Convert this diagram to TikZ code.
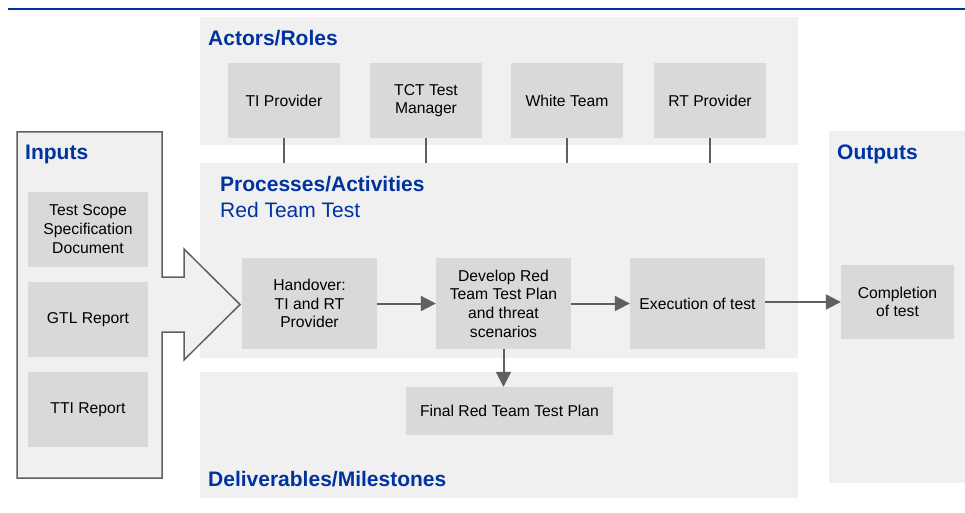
\documentclass[tikz,border=0pt]{standalone}
\usepackage{fontspec}
\setmainfont{Liberation Sans}
\usepackage{tikz}
\usetikzlibrary{positioning, arrows.meta}

\definecolor{titleblue}{RGB}{0,51,160}
\definecolor{panelgray}{RGB}{240,240,240}
\definecolor{boxgray}{RGB}{217,217,217}
\definecolor{linegray}{RGB}{96,96,96}

\tikzset{
	panel/.style={fill=panelgray, inner sep=0pt},
	box/.style={fill=boxgray, inner sep=0pt, align=center, font=\fontsize{15.7}{18.7}\selectfont},
	title/.style={anchor=base west, inner sep=0pt, text=titleblue, font=\fontsize{21}{24}\selectfont\bfseries},
	subtitle/.style={anchor=base west, inner sep=0pt, text=titleblue, font=\fontsize{21}{24}\selectfont},
	link/.style={draw=linegray, line width=2pt},
	flow/.style={link, -{Triangle[length=15pt, width=15pt]}}
}

\begin{document}
\begin{tikzpicture}[x=1pt, y=-1pt]
			\useasboundingbox	(0, 0) rectangle (965, 513);
			\draw	[titleblue, line width=2.5pt]	(8, 9) -- (965, 9);

			% panels
			\node	(actors)	at	(499, 81)		[panel, minimum width=598pt, minimum height=128pt]	{};
			\node	(procs)		at	(499, 260.5)	[panel, minimum width=598pt, minimum height=195pt]	{};
			\node	(delivs)	at	(499, 435)		[panel, minimum width=598pt, minimum height=126pt]	{};
			\node	(outputs)	at	(897, 307)		[panel, minimum width=136pt, minimum height=352pt]	{};
			\draw	[fill=panelgray, draw=linegray, line width=1.5pt]	(162, 132) -- (162, 277) -- (184, 277) -- (184, 249) -- (240, 304.5) -- (184, 360) -- (184, 332) -- (162, 332) -- (162, 478) -- (17, 478) -- (17, 132) -- cycle;

			% titles
			\node	(tactors)	at	(208, 45.5)		[title]		{Actors/Roles};
			\node	(tinputs)	at	(25, 160)		[title]		{Inputs};
			\node	(tprocs)	at	(220, 191.5)	[title]		{Processes/Activities};
			\node	(tred)		at	(220, 217.5)	[subtitle]	{Red Team Test};
			\node	(toutputs)	at	(837, 160)		[title]		{Outputs};
			\node	(tdelivs)	at	(208, 486)		[title]		{Deliverables/Milestones};

			% actors
			\node	(ti)	at	(284, 100.5)	[box, minimum width=112pt, minimum height=75pt]	{TI Provider};
			\node	(tct)	at	(426, 100.5)	[box, minimum width=112pt, minimum height=75pt]	{TCT Test\\Manager};
			\node	(wt)	at	(567, 100.5)	[box, minimum width=112pt, minimum height=75pt]	{White Team};
			\node	(rt)	at	(710, 100.5)	[box, minimum width=112pt, minimum height=75pt]	{RT Provider};
			\foreach \a in {ti, tct, wt, rt}
				\draw	[link]	(\a.south) -- (\a.south |- procs.north);

			% inputs
			\node	(scope)	at	(88, 229)	[box, minimum width=120pt, minimum height=75pt]	{Test Scope\\Specification\\Document};
			\node	(gtl)	at	(88, 319.5)	[box, minimum width=120pt, minimum height=75pt]	{GTL Report};
			\node	(tti)	at	(88, 409.5)	[box, minimum width=120pt, minimum height=75pt]	{TTI Report};

			% activities
			\node	(hand)	at	(309.5, 303.5)	[box, minimum width=135pt, minimum height=91pt]	{Handover:\\TI and RT\\Provider};
			\node	(dev)	at	(503.5, 303.5)	[box, minimum width=135pt, minimum height=91pt]	{Develop Red\\Team Test Plan\\and threat\\scenarios};
			\node	(exec)	at	(697.5, 303.5)	[box, minimum width=135pt, minimum height=91pt]	{Execution of test};
			\node	(compl)	at	(897.5, 302)	[box, minimum width=113pt, minimum height=74pt]	{Completion\\of test};
			\node	(final)	at	(509.5, 411)	[box, minimum width=207pt, minimum height=48pt]	{Final Red Team Test Plan};

			\draw	[flow]	(hand) -- (dev);
			\draw	[flow]	(dev) -- (exec);
			\draw	[flow]	(compl.west -| exec.east) -- (compl.west);
			\draw	[flow]	(dev.south) -- (dev.south |- final.north);
		\end{tikzpicture}
\end{document}
